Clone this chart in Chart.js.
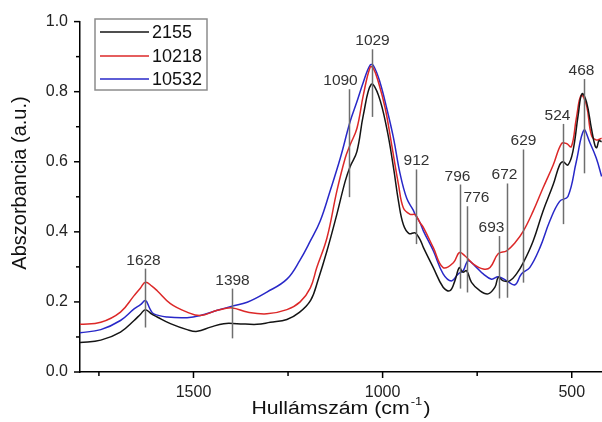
<!DOCTYPE html>
<html>
<head>
<meta charset="utf-8">
<script src="https://cdn.jsdelivr.net/npm/chart.js@4.4.0/dist/chart.umd.min.js"></script>
<style>
html, body { margin: 0; padding: 0; background: #fff; }
#wrap { width: 602px; height: 422px; }
</style>
</head>
<body>
<div id="wrap"><canvas id="ftirChart" width="602" height="422"></canvas></div>
<script>
// sample 2155
const wn_2155 = [1800, 1745, 1693, 1657, 1640, 1627, 1610, 1596, 1561, 1517, 1490, 1455, 1420, 1385, 1332, 1297, 1253, 1220, 1190, 1170, 1147, 1121, 1099, 1086, 1068, 1051, 1030, 1011, 989, 971, 958, 945, 930, 914, 901, 892, 866, 840, 822, 809, 797, 788, 778, 765, 743, 721, 703, 694, 681, 664, 646, 628, 602, 576, 549, 532, 523, 510, 497, 483, 473, 461, 448, 439, 434, 428, 421];
const abs_2155 = [0.084, 0.091, 0.114, 0.147, 0.165, 0.178, 0.165, 0.157, 0.138, 0.121, 0.116, 0.128, 0.138, 0.138, 0.136, 0.142, 0.150, 0.170, 0.205, 0.265, 0.346, 0.450, 0.544, 0.586, 0.629, 0.733, 0.821, 0.790, 0.695, 0.582, 0.487, 0.420, 0.395, 0.397, 0.378, 0.355, 0.298, 0.242, 0.232, 0.260, 0.298, 0.285, 0.289, 0.256, 0.232, 0.223, 0.242, 0.270, 0.260, 0.260, 0.280, 0.312, 0.374, 0.459, 0.535, 0.591, 0.600, 0.591, 0.629, 0.733, 0.794, 0.771, 0.695, 0.648, 0.640, 0.660, 0.657];
// sample 10218
const wn_10218 = [1800, 1745, 1693, 1657, 1640, 1627, 1610, 1596, 1561, 1517, 1482, 1437, 1398, 1358, 1306, 1253, 1218, 1191, 1174, 1147, 1121, 1099, 1086, 1068, 1051, 1033, 1025, 1011, 993, 976, 958, 945, 927, 914, 901, 892, 866, 840, 813, 797, 782, 760, 734, 716, 694, 672, 650, 628, 602, 576, 549, 527, 514, 501, 488, 475, 461, 448, 435, 421];
const abs_10218 = [0.136, 0.142, 0.171, 0.218, 0.240, 0.256, 0.245, 0.232, 0.195, 0.171, 0.161, 0.176, 0.183, 0.171, 0.166, 0.178, 0.200, 0.240, 0.298, 0.383, 0.516, 0.610, 0.648, 0.695, 0.790, 0.870, 0.868, 0.827, 0.752, 0.648, 0.535, 0.468, 0.450, 0.449, 0.426, 0.412, 0.355, 0.298, 0.312, 0.341, 0.331, 0.308, 0.294, 0.298, 0.338, 0.346, 0.369, 0.402, 0.459, 0.525, 0.591, 0.652, 0.652, 0.643, 0.723, 0.790, 0.761, 0.676, 0.662, 0.667];
// sample 10532
const wn_10532 = [1800, 1745, 1693, 1657, 1640, 1627, 1615, 1605, 1569, 1517, 1482, 1437, 1398, 1358, 1306, 1253, 1218, 1191, 1165, 1139, 1112, 1086, 1068, 1051, 1033, 1024, 1007, 989, 971, 954, 936, 919, 914, 901, 892, 866, 840, 818, 800, 787, 774, 756, 734, 712, 694, 672, 650, 633, 611, 584, 558, 532, 510, 488, 468, 453, 435, 421];
const abs_10532 = [0.112, 0.121, 0.147, 0.180, 0.192, 0.204, 0.180, 0.166, 0.157, 0.155, 0.161, 0.176, 0.188, 0.199, 0.228, 0.265, 0.320, 0.374, 0.431, 0.516, 0.610, 0.714, 0.771, 0.827, 0.876, 0.874, 0.827, 0.752, 0.667, 0.567, 0.495, 0.462, 0.450, 0.426, 0.402, 0.346, 0.280, 0.260, 0.280, 0.289, 0.317, 0.303, 0.280, 0.265, 0.272, 0.260, 0.249, 0.280, 0.298, 0.355, 0.431, 0.487, 0.501, 0.600, 0.690, 0.657, 0.610, 0.558];

const series_names = ['2155', '10218', '10532'];

// marked bands: wavenumber, top and bottom of the marker line (absorbance)
const peak_wn = [1628, 1398, 1090, 1029, 912, 796, 776, 693, 672, 629, 524, 468];
const peak_top = [0.295, 0.238, 0.807, 0.921, 0.578, 0.535, 0.473, 0.388, 0.538, 0.635, 0.708, 0.836];
const peak_bottom = [0.127, 0.096, 0.499, 0.728, 0.365, 0.238, 0.227, 0.210, 0.212, 0.255, 0.422, 0.567];

const x_ticks = [1500, 1000, 500];
const x_minor = [1750, 1250, 750];
const y_ticks = [0, 0.2, 0.4, 0.6, 0.8, 1.0];
const y_minor = [0.1, 0.3, 0.5, 0.7, 0.9];

const line_colors = ['#141414', '#dc2828', '#2828c8'];
const font_name = "'Liberation Sans', Arial, sans-serif";

function to_points(xs, ys) {
    return xs.map((x, i) => ({ x: x, y: ys[i] }));
}

// label nudges (px) so labels sit like the original
const label_dx = { 1628: -2, 1090: -9, 796: -3, 776: 9, 693: -8, 672: -3, 524: -6, 468: -3 };

const extrasPlugin = {
    id: 'extras',
    afterDatasetsDraw(chart) {
        const ctx = chart.ctx;
        const xs = chart.scales.x;
        const ys = chart.scales.y;
        ctx.save();
        // band markers
        ctx.strokeStyle = '#6e6e6e';
        ctx.lineWidth = 1.5;
        ctx.fillStyle = '#333';
        ctx.font = '15.5px ' + font_name;
        ctx.textAlign = 'center';
        ctx.textBaseline = 'alphabetic';
        for (let i = 0; i < peak_wn.length; i++) {
            let px = Math.round(xs.getPixelForValue(peak_wn[i])) + 0.5;
            let t = ys.getPixelForValue(peak_top[i]);
            let b = ys.getPixelForValue(peak_bottom[i]);
            ctx.beginPath();
            ctx.moveTo(px, t);
            ctx.lineTo(px, b);
            ctx.stroke();
            ctx.fillText(String(peak_wn[i]), px + (label_dx[peak_wn[i]] || 0), t - 4);
        }
        ctx.restore();
    },
    afterDraw(chart) {
        const ctx = chart.ctx;
        const xs = chart.scales.x;
        const ys = chart.scales.y;
        const area = chart.chartArea;
        ctx.save();
        // tick marks, outside
        ctx.strokeStyle = '#000';
        ctx.lineWidth = 1.5;
        x_ticks.concat(x_minor).forEach(v => {
            let len = x_ticks.includes(v) ? 6 : 4;
            let px = xs.getPixelForValue(v);
            ctx.beginPath();
            ctx.moveTo(px, area.bottom);
            ctx.lineTo(px, area.bottom + len);
            ctx.stroke();
        });
        y_ticks.concat(y_minor).forEach(v => {
            let len = y_ticks.includes(v) ? 6 : 4;
            let py = ys.getPixelForValue(v);
            ctx.beginPath();
            ctx.moveTo(area.left, py);
            ctx.lineTo(area.left - len, py);
            ctx.stroke();
        });

        // legend box
        ctx.fillStyle = '#fff';
        ctx.fillRect(95, 19, 112, 71);
        ctx.strokeStyle = '#8c8c8c';
        ctx.lineWidth = 1.5;
        ctx.strokeRect(95, 19, 112, 71);
        ctx.font = '18px ' + font_name;
        ctx.textAlign = 'left';
        ctx.textBaseline = 'middle';
        const rows = [32, 56, 79];
        series_names.forEach((name, i) => {
            ctx.strokeStyle = line_colors[i];
            ctx.lineWidth = 1.5;
            ctx.beginPath();
            ctx.moveTo(100, rows[i]);
            ctx.lineTo(149, rows[i]);
            ctx.stroke();
            ctx.fillStyle = '#111';
            ctx.fillText(name, 152, rows[i] + 1);
        });

        // y title
        ctx.save();
        ctx.translate(20, 183);
        ctx.rotate(-Math.PI / 2);
        ctx.font = '20px ' + font_name;
        ctx.textAlign = 'center';
        ctx.textBaseline = 'middle';
        ctx.fillStyle = '#111';
        ctx.fillText('Abszorbancia (a.u.)', 0, 0);
        ctx.restore();

        // x title with superscript, a bit wide like the original
        const stretch = 1.18;
        const mainFont = '18px ' + font_name;
        const supFont = '11px ' + font_name;
        ctx.font = mainFont;
        let w1 = ctx.measureText('Hullámszám (cm').width;
        let w3 = ctx.measureText(')').width;
        ctx.font = supFont;
        let w2 = ctx.measureText('-1').width + 2;
        let total = (w1 + w2 + w3) * stretch;
        let cx = (area.left + area.right) / 2;
        ctx.save();
        ctx.translate(cx - total / 2, 414);
        ctx.scale(stretch, 1);
        ctx.fillStyle = '#111';
        ctx.textAlign = 'left';
        ctx.textBaseline = 'alphabetic';
        ctx.font = mainFont;
        ctx.fillText('Hullámszám (cm', 0, 0);
        ctx.font = supFont;
        ctx.fillText('-1', w1 + 1, -9);
        ctx.font = mainFont;
        ctx.fillText(')', w1 + w2, 0);
        ctx.restore();

        ctx.restore();
    }
};

const ctx = document.getElementById('ftirChart');
const chart = new Chart(ctx, {
    type: 'line',
    data: {
        datasets: [
            { label: series_names[0], data: to_points(wn_2155, abs_2155), borderColor: line_colors[0] },
            { label: series_names[1], data: to_points(wn_10218, abs_10218), borderColor: line_colors[1] },
            { label: series_names[2], data: to_points(wn_10532, abs_10532), borderColor: line_colors[2] }
        ]
    },
    options: {
        responsive: false,
        animation: false,
        devicePixelRatio: 1,
        parsing: false,
        elements: {
            line: { borderWidth: 1.5, tension: 0.4, fill: false },
            point: { radius: 0 }
        },
        layout: { padding: { top: 18, right: 0, left: 0, bottom: 0 } },
        scales: {
            x: {
                type: 'linear',
                reverse: true,
                min: 420,
                max: 1800,
                afterBuildTicks: (s) => { s.ticks = x_ticks.map(v => ({ value: v })); },
                afterFit: (s) => { s.height = 50; },
                grid: { display: true, drawOnChartArea: false, drawTicks: false },
                border: { display: true, color: '#000', width: 1.5 },
                ticks: {
                    padding: 11,
                    color: '#222',
                    font: { family: font_name, size: 16 },
                    maxRotation: 0,
                    callback: (v) => String(v)
                }
            },
            y: {
                min: 0,
                max: 1,
                afterBuildTicks: (s) => { s.ticks = y_ticks.map(v => ({ value: v })); },
                afterFit: (s) => { s.width = 80; },
                grid: { display: true, drawOnChartArea: false, drawTicks: false },
                border: { display: true, color: '#000', width: 1.5 },
                ticks: {
                    padding: 12,
                    color: '#222',
                    font: { family: font_name, size: 16 },
                    callback: (v) => Number(v).toFixed(1)
                }
            }
        },
        plugins: {
            legend: { display: false },
            tooltip: { enabled: false }
        }
    },
    plugins: [extrasPlugin]
});
</script>
</body>
</html>
